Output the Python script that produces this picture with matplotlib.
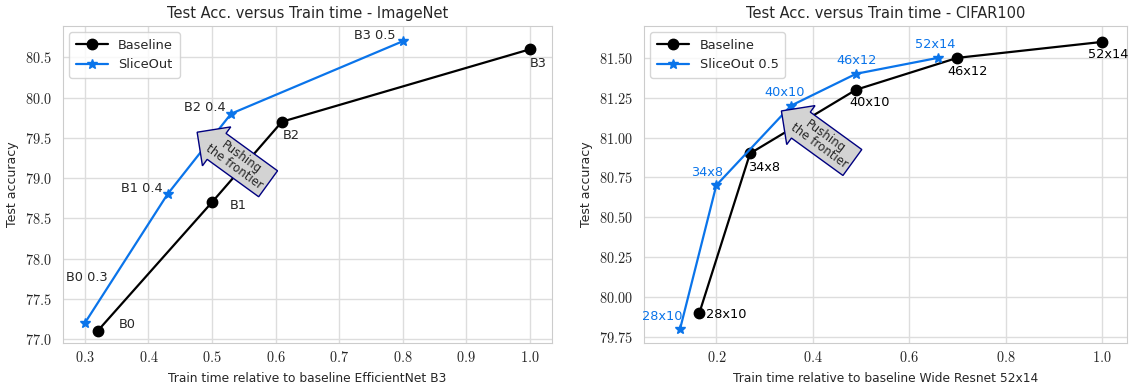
import matplotlib
matplotlib.use("Agg")
import matplotlib.pyplot as plt
import seaborn as sns
from matplotlib.ticker import FuncFormatter, MultipleLocator

sns.set_style("whitegrid")
plt.rcParams['font.family'] = ['DejaVu Sans']
plt.rcParams['mathtext.fontset'] = 'cm'

# ---- ImageNet data ----
in_base_x = [0.32, 0.5, 0.61, 1.0]
in_base_y = [77.1, 78.7, 79.7, 80.6]
in_base_lbl = ["B0", "B1", "B2", "B3"]
in_slice_x = [0.3, 0.43, 0.53, 0.8]
in_slice_y = [77.2, 78.8, 79.8, 80.7]
in_slice_lbl = ["B0 0.3", "B1 0.4", "B2 0.4", "B3 0.5"]

# ---- CIFAR100 data ----
cf_base_x = [0.165, 0.27, 0.49, 0.7, 1.0]
cf_base_y = [79.9, 80.9, 81.3, 81.5, 81.6]
cf_base_lbl = ["28x10", "34x8", "40x10", "46x12", "52x14"]
cf_slice_x = [0.125, 0.2, 0.355, 0.49, 0.66]
cf_slice_y = [79.8, 80.7, 81.2, 81.4, 81.5]
cf_slice_lbl = ["28x10", "34x8", "40x10", "46x12", "52x14"]

# label offsets (pixels)
in_base_off = [(30, 6), (26, -3), (9, -14), (8, -14)]
in_slice_off = [(2, 45), (-26, 6), (-26, 6), (-28, 6)]
cf_base_off = [(27, -2), (14, -14), (14, -13), (10, -14), (6, -13)]
cf_slice_off = [(-18, 12), (-9, 13), (-6, 13), (0, 13), (-3, 13)]

BLUE = '#0a74ea'
TXT = '#262626'

fig = plt.figure(figsize=(11.31, 3.85), dpi=100)
ax1 = fig.add_axes([62.7/1131, 42/385, (552-62.7)/1131, 317/385])
ax2 = fig.add_axes([644/1131, 42/385, (1127-644)/1131, 317/385])

def style(ax):
    for s in ax.spines.values():
        s.set_color('#cccccc')
    ax.grid(True, color='#dddddd', lw=1.0)
    ax.tick_params(axis='both', length=0, labelsize=10.3, labelcolor=TXT)
    ax.tick_params(axis='y', pad=8)
    ax.tick_params(axis='x', pad=5)

def panel(ax, bx, by, bl, boff, sx, sy, sl, soff, slabel, title, xlabel,
          fmt, xl, yl, base_col, slice_col, arrow_xy):
    ax.plot(bx, by, '-o', color='black', lw=1.6, ms=7.5, label='Baseline')
    ax.plot(sx, sy, '-*', color=BLUE, lw=1.6, ms=7.5, label=slabel)
    for x, y, t, o in zip(bx, by, bl, boff):
        ax.annotate(t, (x, y), xytext=o, textcoords='offset pixels',
                    ha='center', va='center', fontsize=9.3, color=base_col)
    for x, y, t, o in zip(sx, sy, sl, soff):
        ax.annotate(t, (x, y), xytext=o, textcoords='offset pixels',
                    ha='center', va='center', fontsize=9.3, color=slice_col)
    ax.set_xlim(*xl)
    ax.set_ylim(*yl)
    ax.set_title(title, fontsize=10.5, color=TXT)
    ax.set_xlabel(xlabel, fontsize=8.8, color=TXT, labelpad=5)
    ax.set_ylabel('Test accuracy', fontsize=9, color=TXT, labelpad=4)
    ax.yaxis.set_major_formatter(FuncFormatter(lambda v, p: '$' + fmt.format(v) + '$'))
    ax.xaxis.set_major_formatter(FuncFormatter(lambda v, p: '${:.1f}$'.format(v)))
    ax.text(arrow_xy[0], arrow_xy[1], 'Pushing\nthe frontier', rotation=-36,
            ha='center', va='center', fontsize=8.5, color=TXT, linespacing=0.9,
            rotation_mode='anchor',
            bbox=dict(boxstyle='larrow,pad=0.3', fc='#d3d3d3', ec='#000080', lw=1))
    leg = ax.legend(loc='upper left', fontsize=9.3, frameon=True, fancybox=True,
                    borderpad=0.5, handlelength=2.5)
    leg.get_frame().set_edgecolor('#cccccc')
    for t in leg.get_texts():
        t.set_color(TXT)
    style(ax)

panel(ax1, in_base_x, in_base_y, in_base_lbl, in_base_off,
      in_slice_x, in_slice_y, in_slice_lbl, in_slice_off, 'SliceOut',
      'Test Acc. versus Train time - ImageNet',
      'Train time relative to baseline EfficientNet B3', '{:.1f}',
      (0.265, 1.035), (76.95, 80.89), TXT, TXT, (0.541, 79.2))
ax1.xaxis.set_major_locator(MultipleLocator(0.1))
ax1.yaxis.set_major_locator(MultipleLocator(0.5))

panel(ax2, cf_base_x, cf_base_y, cf_base_lbl, cf_base_off,
      cf_slice_x, cf_slice_y, cf_slice_lbl, cf_slice_off, 'SliceOut 0.5',
      'Test Acc. versus Train time - CIFAR100',
      'Train time relative to baseline Wide Resnet 52x14', '{:.2f}',
      (0.05, 1.052), (79.71, 81.70), 'black', BLUE, (0.42, 80.98))
ax2.xaxis.set_major_locator(MultipleLocator(0.2))
ax2.yaxis.set_major_locator(MultipleLocator(0.25))

fig.savefig('out.png', dpi=100)
